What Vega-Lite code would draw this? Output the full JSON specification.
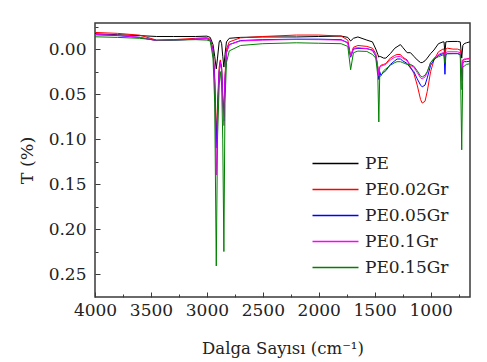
{
"$schema": "https://vega.github.io/schema/vega-lite/v6.json",
"width": 375, "height": 274,
"autosize": {"type": "none"},
"padding": {"left": 95, "top": 23, "right": 17, "bottom": 65},
"background": "white",
"config": {"view": {"stroke": "#3a3a3a", "strokeWidth": 1.5}, "font": "DejaVu Serif"},
"datasets": {"ftir": [
{"s":"PE","w":4000,"t":-0.017},{"s":"PE","w":3800,"t":-0.016},{"s":"PE","w":3600,"t":-0.015},{"s":"PE","w":3450,"t":-0.014},{"s":"PE","w":3300,"t":-0.014},{"s":"PE","w":3100,"t":-0.014},{"s":"PE","w":3000,"t":-0.0144},{"s":"PE","w":2970,"t":-0.013},{"s":"PE","w":2945,"t":-0.005},{"s":"PE","w":2930,"t":0.008},{"s":"PE","w":2916,"t":0.022},{"s":"PE","w":2905,"t":0.010},{"s":"PE","w":2890,"t":-0.008},{"s":"PE","w":2880,"t":-0.010},{"s":"PE","w":2868,"t":-0.006},{"s":"PE","w":2858,"t":0.008},{"s":"PE","w":2848,"t":0.020},{"s":"PE","w":2838,"t":0.006},{"s":"PE","w":2825,"t":-0.008},{"s":"PE","w":2800,"t":-0.012},{"s":"PE","w":2700,"t":-0.013},{"s":"PE","w":2500,"t":-0.0135},{"s":"PE","w":2200,"t":-0.0135},{"s":"PE","w":2000,"t":-0.014},{"s":"PE","w":1800,"t":-0.0145},{"s":"PE","w":1740,"t":-0.013},{"s":"PE","w":1715,"t":-0.009},{"s":"PE","w":1690,"t":-0.012},{"s":"PE","w":1650,"t":-0.0135},{"s":"PE","w":1570,"t":-0.010},{"s":"PE","w":1520,"t":-0.008},{"s":"PE","w":1490,"t":0.000},{"s":"PE","w":1472,"t":0.006},{"s":"PE","w":1463,"t":0.009},{"s":"PE","w":1455,"t":0.008},{"s":"PE","w":1445,"t":0.0085},{"s":"PE","w":1420,"t":0.010},{"s":"PE","w":1400,"t":0.010},{"s":"PE","w":1360,"t":0.005},{"s":"PE","w":1320,"t":-0.001},{"s":"PE","w":1300,"t":-0.0026},{"s":"PE","w":1270,"t":-0.005},{"s":"PE","w":1250,"t":-0.002},{"s":"PE","w":1210,"t":0.004},{"s":"PE","w":1180,"t":0.004},{"s":"PE","w":1150,"t":0.008},{"s":"PE","w":1120,"t":0.012},{"s":"PE","w":1090,"t":0.015},{"s":"PE","w":1075,"t":0.015},{"s":"PE","w":1050,"t":0.013},{"s":"PE","w":1030,"t":0.010},{"s":"PE","w":1000,"t":0.005},{"s":"PE","w":970,"t":0.001},{"s":"PE","w":930,"t":-0.006},{"s":"PE","w":890,"t":-0.008},{"s":"PE","w":880,"t":-0.008},{"s":"PE","w":872,"t":0.005},{"s":"PE","w":864,"t":-0.008},{"s":"PE","w":850,"t":-0.0083},{"s":"PE","w":800,"t":-0.0085},{"s":"PE","w":760,"t":-0.0085},{"s":"PE","w":735,"t":-0.008},{"s":"PE","w":722,"t":0.010},{"s":"PE","w":712,"t":-0.004},{"s":"PE","w":700,"t":-0.006},{"s":"PE","w":680,"t":-0.007},{"s":"PE","w":650,"t":-0.008},
{"s":"PE0.02Gr","w":4000,"t":-0.0185},{"s":"PE0.02Gr","w":3800,"t":-0.0175},{"s":"PE0.02Gr","w":3600,"t":-0.0155},{"s":"PE0.02Gr","w":3450,"t":-0.010},{"s":"PE0.02Gr","w":3300,"t":-0.0105},{"s":"PE0.02Gr","w":3100,"t":-0.012},{"s":"PE0.02Gr","w":3000,"t":-0.0127},{"s":"PE0.02Gr","w":2970,"t":-0.011},{"s":"PE0.02Gr","w":2945,"t":0.000},{"s":"PE0.02Gr","w":2930,"t":0.030},{"s":"PE0.02Gr","w":2916,"t":0.100},{"s":"PE0.02Gr","w":2905,"t":0.060},{"s":"PE0.02Gr","w":2890,"t":0.020},{"s":"PE0.02Gr","w":2880,"t":0.012},{"s":"PE0.02Gr","w":2868,"t":0.020},{"s":"PE0.02Gr","w":2858,"t":0.050},{"s":"PE0.02Gr","w":2848,"t":0.075},{"s":"PE0.02Gr","w":2838,"t":0.030},{"s":"PE0.02Gr","w":2825,"t":0.000},{"s":"PE0.02Gr","w":2800,"t":-0.008},{"s":"PE0.02Gr","w":2700,"t":-0.0125},{"s":"PE0.02Gr","w":2500,"t":-0.014},{"s":"PE0.02Gr","w":2200,"t":-0.0156},{"s":"PE0.02Gr","w":2000,"t":-0.0156},{"s":"PE0.02Gr","w":1800,"t":-0.0145},{"s":"PE0.02Gr","w":1740,"t":-0.010},{"s":"PE0.02Gr","w":1715,"t":0.008},{"s":"PE0.02Gr","w":1690,"t":-0.002},{"s":"PE0.02Gr","w":1650,"t":-0.004},{"s":"PE0.02Gr","w":1570,"t":-0.003},{"s":"PE0.02Gr","w":1520,"t":-0.001},{"s":"PE0.02Gr","w":1490,"t":0.005},{"s":"PE0.02Gr","w":1472,"t":0.020},{"s":"PE0.02Gr","w":1463,"t":0.034},{"s":"PE0.02Gr","w":1455,"t":0.020},{"s":"PE0.02Gr","w":1445,"t":0.018},{"s":"PE0.02Gr","w":1420,"t":0.017},{"s":"PE0.02Gr","w":1400,"t":0.016},{"s":"PE0.02Gr","w":1360,"t":0.010},{"s":"PE0.02Gr","w":1320,"t":0.007},{"s":"PE0.02Gr","w":1300,"t":0.006},{"s":"PE0.02Gr","w":1270,"t":0.006},{"s":"PE0.02Gr","w":1250,"t":0.009},{"s":"PE0.02Gr","w":1210,"t":0.012},{"s":"PE0.02Gr","w":1180,"t":0.020},{"s":"PE0.02Gr","w":1150,"t":0.027},{"s":"PE0.02Gr","w":1120,"t":0.040},{"s":"PE0.02Gr","w":1090,"t":0.056},{"s":"PE0.02Gr","w":1075,"t":0.060},{"s":"PE0.02Gr","w":1050,"t":0.058},{"s":"PE0.02Gr","w":1030,"t":0.047},{"s":"PE0.02Gr","w":1000,"t":0.025},{"s":"PE0.02Gr","w":970,"t":0.012},{"s":"PE0.02Gr","w":930,"t":0.003},{"s":"PE0.02Gr","w":890,"t":0.000},{"s":"PE0.02Gr","w":880,"t":0.000},{"s":"PE0.02Gr","w":872,"t":0.012},{"s":"PE0.02Gr","w":864,"t":0.000},{"s":"PE0.02Gr","w":850,"t":-0.001},{"s":"PE0.02Gr","w":800,"t":0.000},{"s":"PE0.02Gr","w":760,"t":0.000},{"s":"PE0.02Gr","w":735,"t":0.001},{"s":"PE0.02Gr","w":722,"t":0.035},{"s":"PE0.02Gr","w":712,"t":0.012},{"s":"PE0.02Gr","w":700,"t":0.012},{"s":"PE0.02Gr","w":680,"t":0.011},{"s":"PE0.02Gr","w":650,"t":0.010},
{"s":"PE0.05Gr","w":4000,"t":-0.016},{"s":"PE0.05Gr","w":3800,"t":-0.015},{"s":"PE0.05Gr","w":3600,"t":-0.013},{"s":"PE0.05Gr","w":3450,"t":-0.0095},{"s":"PE0.05Gr","w":3300,"t":-0.010},{"s":"PE0.05Gr","w":3100,"t":-0.011},{"s":"PE0.05Gr","w":3000,"t":-0.0115},{"s":"PE0.05Gr","w":2970,"t":-0.010},{"s":"PE0.05Gr","w":2945,"t":0.002},{"s":"PE0.05Gr","w":2930,"t":0.035},{"s":"PE0.05Gr","w":2916,"t":0.110},{"s":"PE0.05Gr","w":2905,"t":0.070},{"s":"PE0.05Gr","w":2890,"t":0.025},{"s":"PE0.05Gr","w":2880,"t":0.014},{"s":"PE0.05Gr","w":2868,"t":0.022},{"s":"PE0.05Gr","w":2858,"t":0.055},{"s":"PE0.05Gr","w":2848,"t":0.080},{"s":"PE0.05Gr","w":2838,"t":0.035},{"s":"PE0.05Gr","w":2825,"t":0.004},{"s":"PE0.05Gr","w":2800,"t":-0.005},{"s":"PE0.05Gr","w":2700,"t":-0.0095},{"s":"PE0.05Gr","w":2500,"t":-0.0105},{"s":"PE0.05Gr","w":2200,"t":-0.011},{"s":"PE0.05Gr","w":2000,"t":-0.011},{"s":"PE0.05Gr","w":1800,"t":-0.0105},{"s":"PE0.05Gr","w":1740,"t":-0.007},{"s":"PE0.05Gr","w":1715,"t":0.009},{"s":"PE0.05Gr","w":1690,"t":0.000},{"s":"PE0.05Gr","w":1650,"t":-0.0008},{"s":"PE0.05Gr","w":1570,"t":-0.0005},{"s":"PE0.05Gr","w":1520,"t":0.001},{"s":"PE0.05Gr","w":1490,"t":0.008},{"s":"PE0.05Gr","w":1472,"t":0.022},{"s":"PE0.05Gr","w":1463,"t":0.033},{"s":"PE0.05Gr","w":1455,"t":0.025},{"s":"PE0.05Gr","w":1445,"t":0.029},{"s":"PE0.05Gr","w":1420,"t":0.026},{"s":"PE0.05Gr","w":1400,"t":0.024},{"s":"PE0.05Gr","w":1360,"t":0.017},{"s":"PE0.05Gr","w":1320,"t":0.013},{"s":"PE0.05Gr","w":1300,"t":0.011},{"s":"PE0.05Gr","w":1270,"t":0.011},{"s":"PE0.05Gr","w":1250,"t":0.013},{"s":"PE0.05Gr","w":1210,"t":0.016},{"s":"PE0.05Gr","w":1180,"t":0.021},{"s":"PE0.05Gr","w":1150,"t":0.025},{"s":"PE0.05Gr","w":1120,"t":0.033},{"s":"PE0.05Gr","w":1090,"t":0.040},{"s":"PE0.05Gr","w":1075,"t":0.042},{"s":"PE0.05Gr","w":1050,"t":0.040},{"s":"PE0.05Gr","w":1030,"t":0.032},{"s":"PE0.05Gr","w":1000,"t":0.018},{"s":"PE0.05Gr","w":970,"t":0.012},{"s":"PE0.05Gr","w":930,"t":0.007},{"s":"PE0.05Gr","w":890,"t":0.005},{"s":"PE0.05Gr","w":880,"t":0.005},{"s":"PE0.05Gr","w":872,"t":0.028},{"s":"PE0.05Gr","w":864,"t":0.006},{"s":"PE0.05Gr","w":850,"t":0.005},{"s":"PE0.05Gr","w":800,"t":0.005},{"s":"PE0.05Gr","w":760,"t":0.005},{"s":"PE0.05Gr","w":735,"t":0.006},{"s":"PE0.05Gr","w":722,"t":0.035},{"s":"PE0.05Gr","w":712,"t":0.015},{"s":"PE0.05Gr","w":700,"t":0.014},{"s":"PE0.05Gr","w":680,"t":0.014},{"s":"PE0.05Gr","w":650,"t":0.0135},
{"s":"PE0.1Gr","w":4000,"t":-0.016},{"s":"PE0.1Gr","w":3800,"t":-0.0155},{"s":"PE0.1Gr","w":3600,"t":-0.013},{"s":"PE0.1Gr","w":3450,"t":-0.0095},{"s":"PE0.1Gr","w":3300,"t":-0.010},{"s":"PE0.1Gr","w":3100,"t":-0.011},{"s":"PE0.1Gr","w":3000,"t":-0.012},{"s":"PE0.1Gr","w":2970,"t":-0.010},{"s":"PE0.1Gr","w":2945,"t":0.003},{"s":"PE0.1Gr","w":2930,"t":0.040},{"s":"PE0.1Gr","w":2916,"t":0.140},{"s":"PE0.1Gr","w":2905,"t":0.080},{"s":"PE0.1Gr","w":2890,"t":0.025},{"s":"PE0.1Gr","w":2880,"t":0.014},{"s":"PE0.1Gr","w":2868,"t":0.025},{"s":"PE0.1Gr","w":2858,"t":0.060},{"s":"PE0.1Gr","w":2848,"t":0.085},{"s":"PE0.1Gr","w":2838,"t":0.035},{"s":"PE0.1Gr","w":2825,"t":0.004},{"s":"PE0.1Gr","w":2800,"t":-0.005},{"s":"PE0.1Gr","w":2700,"t":-0.009},{"s":"PE0.1Gr","w":2500,"t":-0.010},{"s":"PE0.1Gr","w":2200,"t":-0.0107},{"s":"PE0.1Gr","w":2000,"t":-0.0105},{"s":"PE0.1Gr","w":1800,"t":-0.010},{"s":"PE0.1Gr","w":1740,"t":-0.007},{"s":"PE0.1Gr","w":1715,"t":0.008},{"s":"PE0.1Gr","w":1690,"t":-0.001},{"s":"PE0.1Gr","w":1650,"t":-0.0015},{"s":"PE0.1Gr","w":1570,"t":-0.0005},{"s":"PE0.1Gr","w":1520,"t":0.0015},{"s":"PE0.1Gr","w":1490,"t":0.007},{"s":"PE0.1Gr","w":1472,"t":0.020},{"s":"PE0.1Gr","w":1463,"t":0.030},{"s":"PE0.1Gr","w":1455,"t":0.020},{"s":"PE0.1Gr","w":1445,"t":0.019},{"s":"PE0.1Gr","w":1420,"t":0.018},{"s":"PE0.1Gr","w":1400,"t":0.017},{"s":"PE0.1Gr","w":1360,"t":0.012},{"s":"PE0.1Gr","w":1320,"t":0.009},{"s":"PE0.1Gr","w":1300,"t":0.0085},{"s":"PE0.1Gr","w":1270,"t":0.008},{"s":"PE0.1Gr","w":1250,"t":0.010},{"s":"PE0.1Gr","w":1210,"t":0.013},{"s":"PE0.1Gr","w":1180,"t":0.018},{"s":"PE0.1Gr","w":1150,"t":0.020},{"s":"PE0.1Gr","w":1120,"t":0.026},{"s":"PE0.1Gr","w":1090,"t":0.032},{"s":"PE0.1Gr","w":1075,"t":0.033},{"s":"PE0.1Gr","w":1050,"t":0.031},{"s":"PE0.1Gr","w":1030,"t":0.026},{"s":"PE0.1Gr","w":1000,"t":0.015},{"s":"PE0.1Gr","w":970,"t":0.010},{"s":"PE0.1Gr","w":930,"t":0.006},{"s":"PE0.1Gr","w":890,"t":0.004},{"s":"PE0.1Gr","w":880,"t":0.004},{"s":"PE0.1Gr","w":872,"t":0.014},{"s":"PE0.1Gr","w":864,"t":0.004},{"s":"PE0.1Gr","w":850,"t":0.003},{"s":"PE0.1Gr","w":800,"t":0.003},{"s":"PE0.1Gr","w":760,"t":0.003},{"s":"PE0.1Gr","w":735,"t":0.004},{"s":"PE0.1Gr","w":722,"t":0.045},{"s":"PE0.1Gr","w":712,"t":0.012},{"s":"PE0.1Gr","w":700,"t":0.011},{"s":"PE0.1Gr","w":680,"t":0.011},{"s":"PE0.1Gr","w":650,"t":0.011},
{"s":"PE0.15Gr","w":4000,"t":-0.0137},{"s":"PE0.15Gr","w":3800,"t":-0.013},{"s":"PE0.15Gr","w":3600,"t":-0.012},{"s":"PE0.15Gr","w":3450,"t":-0.010},{"s":"PE0.15Gr","w":3300,"t":-0.010},{"s":"PE0.15Gr","w":3100,"t":-0.0105},{"s":"PE0.15Gr","w":3000,"t":-0.010},{"s":"PE0.15Gr","w":2970,"t":-0.009},{"s":"PE0.15Gr","w":2945,"t":0.010},{"s":"PE0.15Gr","w":2930,"t":0.060},{"s":"PE0.15Gr","w":2916,"t":0.241},{"s":"PE0.15Gr","w":2905,"t":0.100},{"s":"PE0.15Gr","w":2890,"t":0.040},{"s":"PE0.15Gr","w":2880,"t":0.025},{"s":"PE0.15Gr","w":2868,"t":0.040},{"s":"PE0.15Gr","w":2858,"t":0.100},{"s":"PE0.15Gr","w":2848,"t":0.225},{"s":"PE0.15Gr","w":2838,"t":0.060},{"s":"PE0.15Gr","w":2825,"t":0.015},{"s":"PE0.15Gr","w":2800,"t":0.002},{"s":"PE0.15Gr","w":2700,"t":-0.004},{"s":"PE0.15Gr","w":2500,"t":-0.006},{"s":"PE0.15Gr","w":2200,"t":-0.007},{"s":"PE0.15Gr","w":2000,"t":-0.0065},{"s":"PE0.15Gr","w":1800,"t":-0.006},{"s":"PE0.15Gr","w":1740,"t":-0.003},{"s":"PE0.15Gr","w":1715,"t":0.023},{"s":"PE0.15Gr","w":1690,"t":0.004},{"s":"PE0.15Gr","w":1650,"t":0.0022},{"s":"PE0.15Gr","w":1570,"t":0.0026},{"s":"PE0.15Gr","w":1520,"t":0.006},{"s":"PE0.15Gr","w":1490,"t":0.010},{"s":"PE0.15Gr","w":1472,"t":0.030},{"s":"PE0.15Gr","w":1463,"t":0.081},{"s":"PE0.15Gr","w":1455,"t":0.030},{"s":"PE0.15Gr","w":1445,"t":0.030},{"s":"PE0.15Gr","w":1420,"t":0.024},{"s":"PE0.15Gr","w":1400,"t":0.022},{"s":"PE0.15Gr","w":1360,"t":0.018},{"s":"PE0.15Gr","w":1320,"t":0.015},{"s":"PE0.15Gr","w":1300,"t":0.014},{"s":"PE0.15Gr","w":1270,"t":0.014},{"s":"PE0.15Gr","w":1250,"t":0.015},{"s":"PE0.15Gr","w":1210,"t":0.017},{"s":"PE0.15Gr","w":1180,"t":0.017},{"s":"PE0.15Gr","w":1150,"t":0.019},{"s":"PE0.15Gr","w":1120,"t":0.024},{"s":"PE0.15Gr","w":1090,"t":0.030},{"s":"PE0.15Gr","w":1075,"t":0.031},{"s":"PE0.15Gr","w":1050,"t":0.029},{"s":"PE0.15Gr","w":1030,"t":0.025},{"s":"PE0.15Gr","w":1000,"t":0.015},{"s":"PE0.15Gr","w":970,"t":0.011},{"s":"PE0.15Gr","w":930,"t":0.0085},{"s":"PE0.15Gr","w":890,"t":0.0065},{"s":"PE0.15Gr","w":880,"t":0.0065},{"s":"PE0.15Gr","w":872,"t":0.016},{"s":"PE0.15Gr","w":864,"t":0.006},{"s":"PE0.15Gr","w":850,"t":0.0052},{"s":"PE0.15Gr","w":800,"t":0.005},{"s":"PE0.15Gr","w":760,"t":0.005},{"s":"PE0.15Gr","w":735,"t":0.006},{"s":"PE0.15Gr","w":722,"t":0.112},{"s":"PE0.15Gr","w":712,"t":0.020},{"s":"PE0.15Gr","w":700,"t":0.019},{"s":"PE0.15Gr","w":680,"t":0.017},{"s":"PE0.15Gr","w":650,"t":0.0163}
]},
"data": {"name": "ftir"},
"mark": {"type": "line", "strokeWidth": 1, "clip": true},
"encoding": {
 "x": {"field": "w", "type": "quantitative",
   "scale": {"domain": [4000, 648], "nice": false, "zero": false},
   "axis": {"title": "Dalga Sayısı (cm⁻¹)", "values": [4000,3750,3500,3250,3000,2750,2500,2250,2000,1750,1500,1250,1000,750],
     "labelExpr": "datum.value % 500 === 0 ? format(datum.value, 'd') : ''",
     "labelFlush": false, "labelOverlap": false, "labelFontSize": 17, "labelColor": "#222", "labelPadding": 10,
     "tickSize": {"condition": {"test": "datum.value % 500 === 0", "value": -5}, "value": -3},
     "tickColor": "#3a3a3a", "grid": false, "domain": false,
     "titleFontSize": 16.5, "titleFontWeight": "normal", "titleColor": "#222", "titleY": 51, "titleBaseline": "middle"}},
 "y": {"field": "t", "type": "quantitative",
   "scale": {"domain": [-0.029, 0.2755], "reverse": true, "nice": false, "zero": false},
   "axis": {"title": "T (%)", "values": [-0.025,0,0.025,0.05,0.075,0.1,0.125,0.15,0.175,0.2,0.225,0.25],
     "labelExpr": "abs(datum.value*100 % 5) < 0.001 ? format(datum.value, '.2f') : ''",
     "labelOverlap": false, "labelFontSize": 17, "labelColor": "#222", "labelPadding": 14,
     "tickSize": {"condition": {"test": "abs(datum.value*100 % 5) < 0.001", "value": -5}, "value": -3},
     "tickColor": "#3a3a3a", "grid": false, "domain": false,
     "titleFontSize": 17.5, "titleFontWeight": "normal", "titleColor": "#222", "titleX": -68, "titleY": 137, "titleBaseline": "middle", "titleAngle": -90}},
 "color": {"field": "s", "type": "nominal",
   "scale": {"domain": ["PE","PE0.02Gr","PE0.05Gr","PE0.1Gr","PE0.15Gr"], "range": ["#000000","#ff0000","#0000ff","#ff00ff","#008000"]},
   "legend": {"title": null, "orient": "none", "legendX": 228, "legendY": 128, "padding": 0,
     "symbolType": "M-2,0H2", "symbolSize": 529, "symbolStrokeWidth": 1.5, "rowPadding": 5,
     "labelFontSize": 17, "labelColor": "#222", "labelOffset": 17}}
}
}
